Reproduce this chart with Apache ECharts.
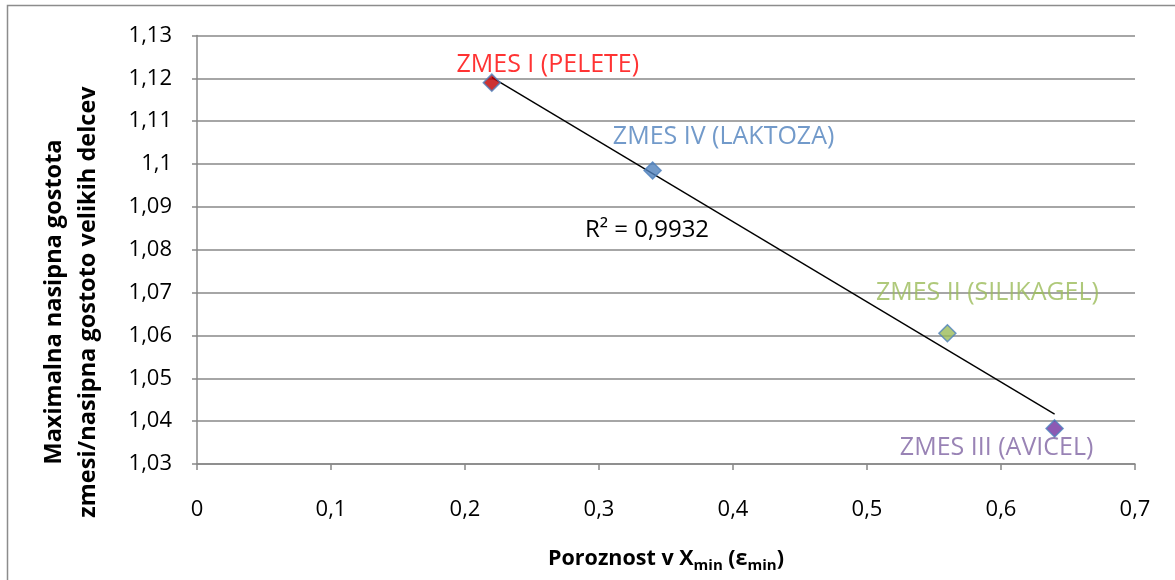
<!DOCTYPE html>
<html>
<head>
<meta charset="utf-8">
<script src="https://cdn.jsdelivr.net/npm/echarts@6/dist/echarts.min.js"></script>
<style>
  html, body { margin: 0; padding: 0; background: #ffffff; }
  #chart { width: 1175px; height: 580px; }
</style>
</head>
<body>
<div id="chart"></div>
<script>
// Mixtures and measured values
const mixtures = ['ZMES I (PELETE)', 'ZMES IV (LAKTOZA)', 'ZMES II (SILIKAGEL)', 'ZMES III (AVICEL)'];
const porosity = [0.22, 0.34, 0.56, 0.64];          // Poroznost v Xmin (εmin)
const densityRatio = [1.119, 1.0985, 1.0605, 1.0383]; // max. nasipna gostota zmesi / nasipna gostota velikih delcev
const rSquaredText = 'R² = 0,9932';

// Axis ranges
const xAxisRange = { min: 0, max: 0.7, interval: 0.1 };
const yAxisRange = { min: 1.03, max: 1.13, interval: 0.01 };

// Per-mixture styling
const markerFills = ['#C00000', '#4F81BD', '#9BBB59', '#7030A0'];
const labelColors = ['#FF0000', '#4F81BD', '#9BBB59', '#8064A2'];
const labelOffsets = [[56, -18], [71, -34], [40, -40], [-58, 19]];

const FONT = '"Open Sans", "Liberation Sans", sans-serif';
const GRID_GREY = '#888888';

// Least-squares linear trendline over the data range
function linearFit(xs, ys) {
  const n = xs.length;
  const mx = xs.reduce((a, b) => a + b, 0) / n;
  const my = ys.reduce((a, b) => a + b, 0) / n;
  let sxy = 0, sxx = 0;
  for (let i = 0; i < n; i++) {
    sxy += (xs[i] - mx) * (ys[i] - my);
    sxx += (xs[i] - mx) * (xs[i] - mx);
  }
  const slope = sxy / sxx;
  return { slope, intercept: my - slope * mx };
}
const fit = linearFit(porosity, densityRatio);
const xFrom = Math.min(...porosity), xTo = Math.max(...porosity);
const trendData = [
  [xFrom, fit.intercept + fit.slope * xFrom],
  [xTo, fit.intercept + fit.slope * xTo]
];

const decimalComma = v => String(parseFloat(v.toFixed(2))).replace('.', ',');

const pointData = porosity.map((x, i) => ({
  value: [x, densityRatio[i]],
  name: mixtures[i],
  itemStyle: { color: markerFills[i] },
  label: { color: labelColors[i], offset: labelOffsets[i] }
}));

const chart = echarts.init(document.getElementById('chart'), null, { renderer: 'canvas' });

chart.setOption({
  animation: false,
  backgroundColor: '#ffffff',
  textStyle: { fontFamily: FONT },
  grid: { left: 197, right: 40, top: 35.5, bottom: 116, containLabel: false, outerBoundsMode: 'none' },
  xAxis: {
    type: 'value',
    min: xAxisRange.min,
    max: xAxisRange.max,
    interval: xAxisRange.interval,
    name: '{b|Poroznost v X}{s|min}{b| (ε}{s|min}{b|)}',
    nameLocation: 'middle',
    nameGap: 81,
    nameTextStyle: {
      rich: {
        b: { fontFamily: FONT, fontSize: 21.5, fontWeight: 'bold', color: '#000', lineHeight: 28, verticalAlign: 'middle' },
        s: { fontFamily: FONT, fontSize: 15, fontWeight: 'bold', color: '#000', lineHeight: 15, verticalAlign: 'bottom' }
      }
    },
    axisLine: { show: true, lineStyle: { color: GRID_GREY, width: 1.5 } },
    axisTick: { show: true, inside: false, length: 6, lineStyle: { color: GRID_GREY, width: 1.5 } },
    axisLabel: { color: '#000', fontSize: 22, fontFamily: FONT, margin: 35, formatter: decimalComma },
    splitLine: { show: false }
  },
  yAxis: {
    type: 'value',
    min: yAxisRange.min,
    max: yAxisRange.max,
    interval: yAxisRange.interval,
    axisLine: { show: true, lineStyle: { color: GRID_GREY, width: 1.5 } },
    axisTick: { show: true, inside: false, length: 5, lineStyle: { color: GRID_GREY, width: 1.5 } },
    axisLabel: { color: '#000', fontSize: 22, fontFamily: FONT, margin: 25, formatter: decimalComma },
    splitLine: { show: true, lineStyle: { color: GRID_GREY, width: 1.5 } }
  },
  series: [
    {
      name: 'Linearni trend',
      type: 'line',
      data: trendData,
      showSymbol: false,
      symbol: 'none',
      lineStyle: { color: '#000000', width: 1.4 },
      z: 3,
      silent: true
    },
    {
      name: 'Zmesi',
      type: 'scatter',
      data: pointData,
      symbol: 'diamond',
      symbolSize: [17, 17],
      itemStyle: { borderColor: '#4F81BD', borderWidth: 1.5 },
      label: {
        show: true,
        position: 'inside',
        formatter: p => p.name,
        fontFamily: FONT,
        fontSize: 25,
        align: 'center',
        verticalAlign: 'middle'
      },
      z: 4
    }
  ],
  graphic: [
    {
      type: 'rect',
      shape: { x: 7.5, y: 5.5, width: 1200, height: 600 },
      style: { fill: null, stroke: '#8c8c8c', lineWidth: 1.5 },
      silent: true,
      z: -10
    },
    {
      type: 'text',
      x: 71,
      y: 302,
      rotation: Math.PI / 2,
      style: {
        text: 'Maximalna nasipna gostota\nzmesi/nasipna gostoto velikih delcev',
        fontFamily: FONT,
        fontSize: 23.5,
        fontWeight: 'bold',
        fill: '#000',
        lineHeight: 34,
        align: 'center',
        verticalAlign: 'middle'
      }
    },
    {
      type: 'text',
      x: 647,
      y: 230,
      style: {
        text: rSquaredText,
        fontFamily: FONT,
        fontSize: 24,
        fill: '#000',
        align: 'center',
        verticalAlign: 'middle'
      }
    }
  ]
});
</script>
</body>
</html>
